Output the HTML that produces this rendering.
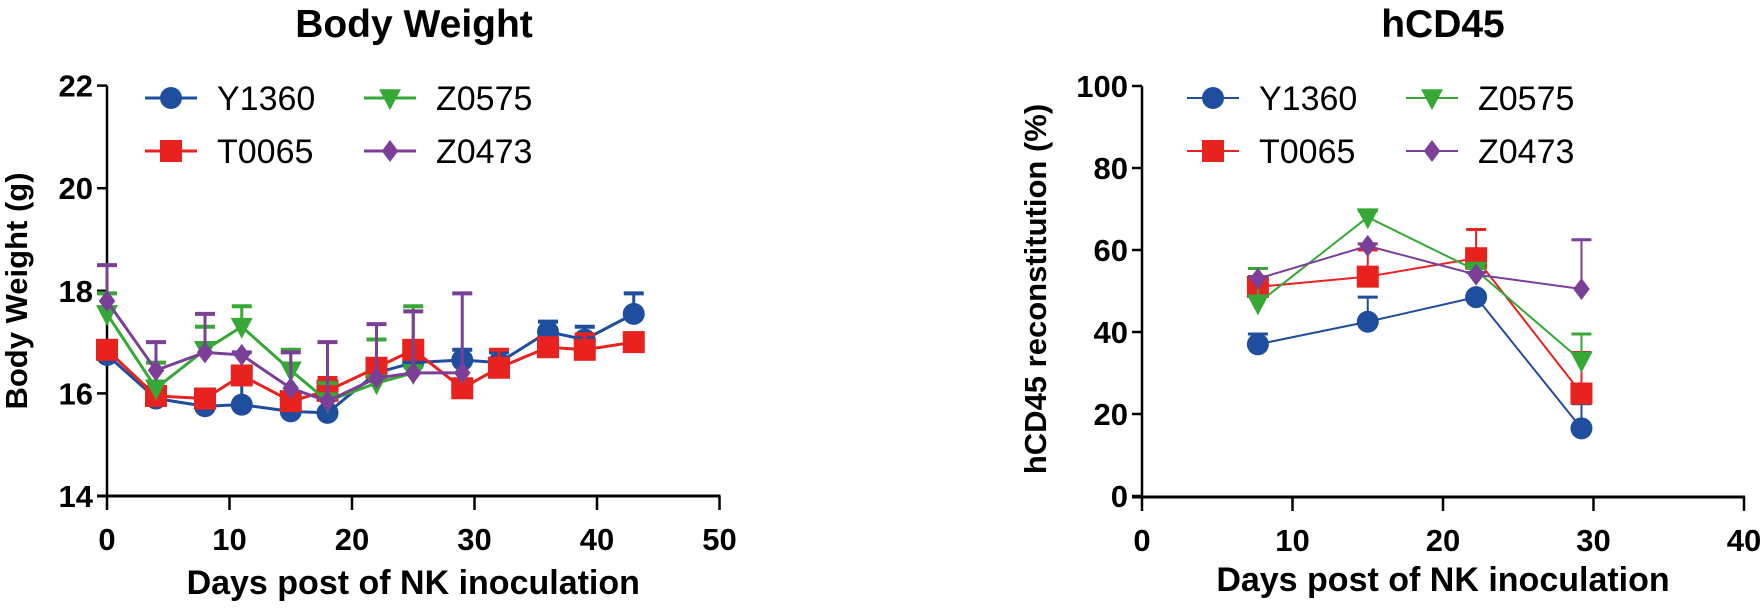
<!DOCTYPE html>
<html><head><meta charset="utf-8"><style>
body{margin:0;background:#fff;}
svg{display:block;font-family:"Liberation Sans",Arial,sans-serif;}
</style></head><body>
<svg id="c" width="1763" height="612"></svg>
<script>
const NS="http://www.w3.org/2000/svg";
const svg=document.getElementById('c');
const seriesNames=["Y1360","T0065","Z0575","Z0473"];
const colors=["#1f4e9e","#e8221f","#35a836","#7b3f98"];
const bwDays=[0,4,8,11,15,18,22,25,29,32,36,39,43];
const bwY1360=[16.75,15.9,15.75,15.78,15.65,15.62,16.4,16.6,16.65,16.6,17.2,17.05,17.55];
const bwY1360Err=[0.25,0.2,0.3,0.42,0.1,0.4,0.2,0.1,0.2,0.2,0.2,0.25,0.4];
const bwT0065=[16.85,15.95,15.9,16.35,15.85,16.05,16.5,16.85,16.1,16.5,16.9,16.85,17.0];
const bwT0065Err=[0.1,0.05,0.05,0.1,0.05,0.25,0.15,0.1,0.05,0.35,0.05,0.3,0.05];
const bwZ0575=[17.55,16.1,16.85,17.3,16.45,15.85,16.2,16.4];
const bwZ0575Err=[0.4,0.5,0.45,0.4,0.4,0.35,0.85,1.3];
const bwZ0473=[17.8,16.45,16.8,16.75,16.1,15.85,16.3,16.4,16.4];
const bwZ0473Err=[0.7,0.55,0.75,0.05,0.7,1.15,1.05,1.2,1.55];
const bwTicksY=[14,16,18,20,22];
const bwTicksX=[0,10,20,30,40,50];
const hDays=[7.7,15,22.2,29.2];
const hY1360=[37,42.5,48.5,16.5];
const hY1360Err=[2.5,6,0.5,6];
const hT0065=[51,53.5,58,25];
const hT0065Err=[2.5,6.5,7,10];
const hZ0575=[47,68,55,33];
const hZ0575Err=[8.5,1.5,0.5,6.5];
const hZ0473=[53,61,54,50.5];
const hZ0473Err=[0.5,0.5,0.5,12];
const hTicksY=[0,20,40,60,80,100];
const hTicksX=[0,10,20,30,40];

function el(tag,attrs,parent,text){const e=document.createElementNS(NS,tag);for(const k in attrs)e.setAttribute(k,attrs[k]);if(text!==undefined)e.textContent=text;(parent||svg).appendChild(e);return e;}

function marker(g,i,x,y,r){
  const c=colors[i];
  if(i===0)return el('circle',{cx:x,cy:y,r:r,fill:c},g);
  if(i===1)return el('rect',{x:x-r,y:y-r,width:2*r,height:2*r,fill:c},g);
  if(i===2)return el('polygon',{points:`${x-r},${y-r*0.8} ${x+r},${y-r*0.8} ${x},${y+r*1.1}`,fill:c},g);
  return el('polygon',{points:`${x},${y-r} ${x+r*0.75},${y} ${x},${y+r} ${x-r*0.75},${y}`,fill:c},g);
}

function chart(cfg){
  const g=el('g',{});
  
  
  const X=v=>cfg.x0+(v-cfg.xmin)*cfg.xs, Y=v=>cfg.y0-(v-cfg.ymin)*cfg.ys;
  const ya=el('line',{x1:cfg.x0,y1:Y(cfg.yTicks[cfg.yTicks.length-1]),x2:cfg.x0,y2:cfg.axisY,stroke:'#000','stroke-width':2.5},g);
  
  const xa=el('line',{x1:cfg.x0-10,y1:cfg.axisY,x2:X(cfg.xTicks[cfg.xTicks.length-1])+1,y2:cfg.axisY,stroke:'#000','stroke-width':3},g);
  
  cfg.yTicks.forEach(t=>{el('line',{x1:cfg.x0-10,y1:Y(t),x2:cfg.x0,y2:Y(t),stroke:'#000','stroke-width':2.5},g);
    const l=el('text',{x:cfg.x0-14,y:Y(t)+11,'text-anchor':'end','font-size':31,'font-weight':'bold'},g,t);
    });
  cfg.xTicks.forEach(t=>{el('line',{x1:X(t),y1:cfg.axisY,x2:X(t),y2:cfg.axisY+14,stroke:'#000','stroke-width':2.5},g);
    const l=el('text',{x:X(t),y:cfg.axisY+54,'text-anchor':'middle','font-size':31,'font-weight':'bold'},g,t);
    });
  const tt=el('text',{x:cfg.titleX,y:37,'text-anchor':'middle','font-size':39,'font-weight':'bold'},g,cfg.title);
  
  const xt=el('text',{x:(cfg.x0+X(cfg.xTicks[cfg.xTicks.length-1]))/2,y:cfg.xTitleY,'text-anchor':'middle','font-size':34,'font-weight':'bold'},g,'Days post of NK inoculation');
  
  const yt=el('text',{x:0,y:0,'text-anchor':'middle','font-size':31,'font-weight':'bold',transform:`translate(${cfg.yTitleX},${cfg.yTitleY}) rotate(-90)`},g,cfg.yTitle);
  
  cfg.series.forEach((s,i)=>{
    const sg=el('g',{},g);
    
    
    const c=colors[i];
    s.vals.forEach((v,j)=>{const e=s.err[j];if(e>0.02){const x=X(cfg.days[j]);
      el('line',{x1:x,y1:Y(v),x2:x,y2:Y(v+e),stroke:c,'stroke-width':cfg.lw},sg);
      el('line',{x1:x-10,y1:Y(v+e),x2:x+10,y2:Y(v+e),stroke:c,'stroke-width':cfg.lw+1},sg);}});
    el('polyline',{points:s.vals.map((v,j)=>X(cfg.days[j])+','+Y(v)).join(' '),fill:'none',stroke:c,'stroke-width':cfg.lw},sg);
    s.vals.forEach((v,j)=>{const m=marker(sg,i,X(cfg.days[j]),Y(v),cfg.mr);
      
      });
  });
  const pos=[[0,0],[0,1],[1,0],[1,1]];
  seriesNames.forEach((n,i)=>{
    const lg=el('g',{},g);
    
    
    const mx=cfg.legX+pos[i][0]*cfg.legDX, my=cfg.legY+pos[i][1]*53;
    el('line',{x1:mx-26,y1:my,x2:mx+26,y2:my,stroke:colors[i],'stroke-width':cfg.lw},lg);
    marker(lg,i,mx,my,cfg.mr);
    el('text',{x:mx+46,y:my+12,'font-size':34},lg,n);
  });
}

chart({name:'body-weight-chart',title:'Body Weight',titleX:414,x0:107,xmin:0,xs:12.25,y0:496,ymin:14,ys:51.3,axisY:496,
  yTicks:bwTicksY,xTicks:bwTicksX,days:bwDays,lw:3,mr:11,xTitleY:594,yTitleX:27,yTitleY:291,yTitle:'Body Weight (g)',
  legX:171,legY:98,legDX:219,
  series:[{vals:bwY1360,err:bwY1360Err},{vals:bwT0065,err:bwT0065Err},{vals:bwZ0575,err:bwZ0575Err},{vals:bwZ0473,err:bwZ0473Err}]});
chart({name:'hcd45-chart',title:'hCD45',titleX:1443,x0:1142,xmin:0,xs:15.05,y0:496,ymin:0,ys:4.1,axisY:497,
  yTicks:hTicksY,xTicks:hTicksX,days:hDays,lw:2,mr:11,xTitleY:591,yTitleX:1046,yTitleY:289,yTitle:'hCD45 reconstitution (%)',
  legX:1213,legY:98,legDX:219,
  series:[{vals:hY1360,err:hY1360Err},{vals:hT0065,err:hT0065Err},{vals:hZ0575,err:hZ0575Err},{vals:hZ0473,err:hZ0473Err}]});
</script>
</body></html>
